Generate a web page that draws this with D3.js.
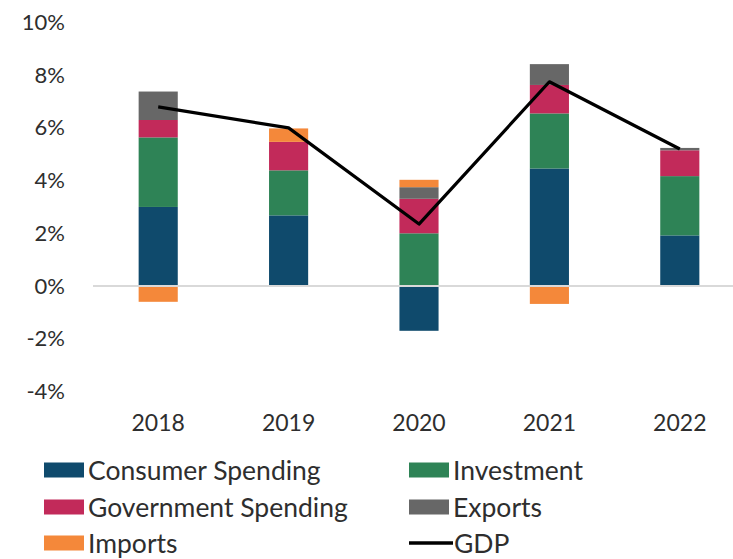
<!DOCTYPE html>
<html>
<head>
<meta charset="utf-8">
<script src="https://cdn.jsdelivr.net/npm/d3@7/dist/d3.min.js"></script>
<style>
  html, body { margin: 0; padding: 0; background: #ffffff; }
  svg { display: block; }
  text { font-family: Lato, "Open Sans", sans-serif; fill: #2e2e2e; }
</style>
</head>
<body>
<svg id="chart" width="733" height="559"></svg>
<script>
// GDP growth contributions by component (percentage points)
const years = ["2018", "2019", "2020", "2021", "2022"];
const consumerSpending   = [3.0, 2.68, -1.7, 4.46, 1.92];
const investment         = [2.64, 1.71, 2.0, 2.09, 2.25];
const governmentSpending = [0.66, 1.08, 1.31, 1.08, 0.98];
const exportsContrib     = [1.08, 0.0, 0.44, 0.79, 0.09];
const importsContrib     = [-0.6, 0.51, 0.28, -0.68, 0.0];
const gdp                = [6.8, 6.0, 2.35, 7.75, 5.2];
const yTicks = [-4, -2, 0, 2, 4, 6, 8, 10];

const seriesNames  = ["Consumer Spending", "Investment", "Government Spending", "Exports", "Imports"];
const seriesColors = ["#0f4a6c", "#2e8356", "#c22a5a", "#676767", "#f4883a"];
const seriesValues = [consumerSpending, investment, governmentSpending, exportsContrib, importsContrib];

const svg = d3.select("#chart");

const x = d3.scaleBand().domain(years).range([93, 745]).paddingInner(0.7).paddingOuter(0.35);
const y = d3.scaleLinear().domain([-4, 10]).range([391.4, 22.5]);

// Stack with positives going up and negatives going down from zero
const table = years.map((yr, i) => {
  const row = { year: yr };
  seriesNames.forEach((n, k) => { row[n] = seriesValues[k][i]; });
  return row;
});
const stacked = d3.stack().keys(seriesNames).offset(d3.stackOffsetDiverging)(table);

svg.append("g").selectAll("g")
  .data(stacked)
  .join("g")
  .attr("fill", (d, k) => seriesColors[k])
  .selectAll("rect")
  .data(d => d)
  .join("rect")
  .attr("x", d => x(d.data.year))
  .attr("width", x.bandwidth())
  .attr("y", d => y(Math.max(d[0], d[1])))
  .attr("height", d => Math.abs(y(d[0]) - y(d[1])));

// Horizontal zero axis
svg.append("line")
  .attr("x1", 93).attr("x2", 745)
  .attr("y1", y(0)).attr("y2", y(0))
  .attr("stroke", "#d9d9d9").attr("stroke-width", 2);

// GDP line
const line = d3.line()
  .x((d, i) => x(years[i]) + x.bandwidth() / 2)
  .y(d => y(d));
svg.append("path")
  .datum(gdp)
  .attr("d", line)
  .attr("fill", "none")
  .attr("stroke", "#000000")
  .attr("stroke-width", 3.2)
  .attr("stroke-linejoin", "round");

// Y axis labels
const yAxis = d3.axisLeft(y).tickValues(yTicks).tickFormat(d => d + "%").tickSize(0).tickPadding(0);
const ya = svg.append("g").attr("transform", "translate(65,0)").call(yAxis);
ya.select(".domain").remove();
ya.selectAll("text").attr("font-size", 22).attr("font-family", "Lato, sans-serif").attr("fill", "#3a3a3a");

// X axis labels
const xAxis = d3.axisBottom(x).tickSize(0).tickPadding(0);
const xa = svg.append("g").attr("transform", "translate(0,415)").call(xAxis);
xa.select(".domain").remove();
xa.selectAll("text").attr("font-size", 23).attr("font-family", "Lato, sans-serif").attr("fill", "#2e2e2e");

// Legend
const legendItems = [
  { name: "Consumer Spending", color: seriesColors[0], type: "rect", col: 0, row: 0 },
  { name: "Investment", color: seriesColors[1], type: "rect", col: 1, row: 0 },
  { name: "Government Spending", color: seriesColors[2], type: "rect", col: 0, row: 1 },
  { name: "Exports", color: seriesColors[3], type: "rect", col: 1, row: 1 },
  { name: "Imports", color: seriesColors[4], type: "rect", col: 0, row: 2 },
  { name: "GDP", color: "#000000", type: "line", col: 1, row: 2 }
];
const colX = [44, 409];
const rowY = [470, 507, 543];
const lg = svg.append("g").selectAll("g").data(legendItems).join("g")
  .attr("transform", d => `translate(${colX[d.col]},${rowY[d.row]})`);
lg.filter(d => d.type === "rect").append("rect")
  .attr("x", 0).attr("y", -7.5).attr("width", 40).attr("height", 15)
  .attr("fill", d => d.color);
lg.filter(d => d.type === "line").append("line")
  .attr("x1", 0).attr("x2", 44).attr("y1", 0).attr("y2", 0)
  .attr("stroke", d => d.color).attr("stroke-width", 3.5);
lg.append("text")
  .attr("x", d => d.type === "line" ? 45 : 44).attr("y", 0).attr("dy", "0.36em")
  .attr("font-size", 26.5)
  .text(d => d.name);
</script>
</body>
</html>
